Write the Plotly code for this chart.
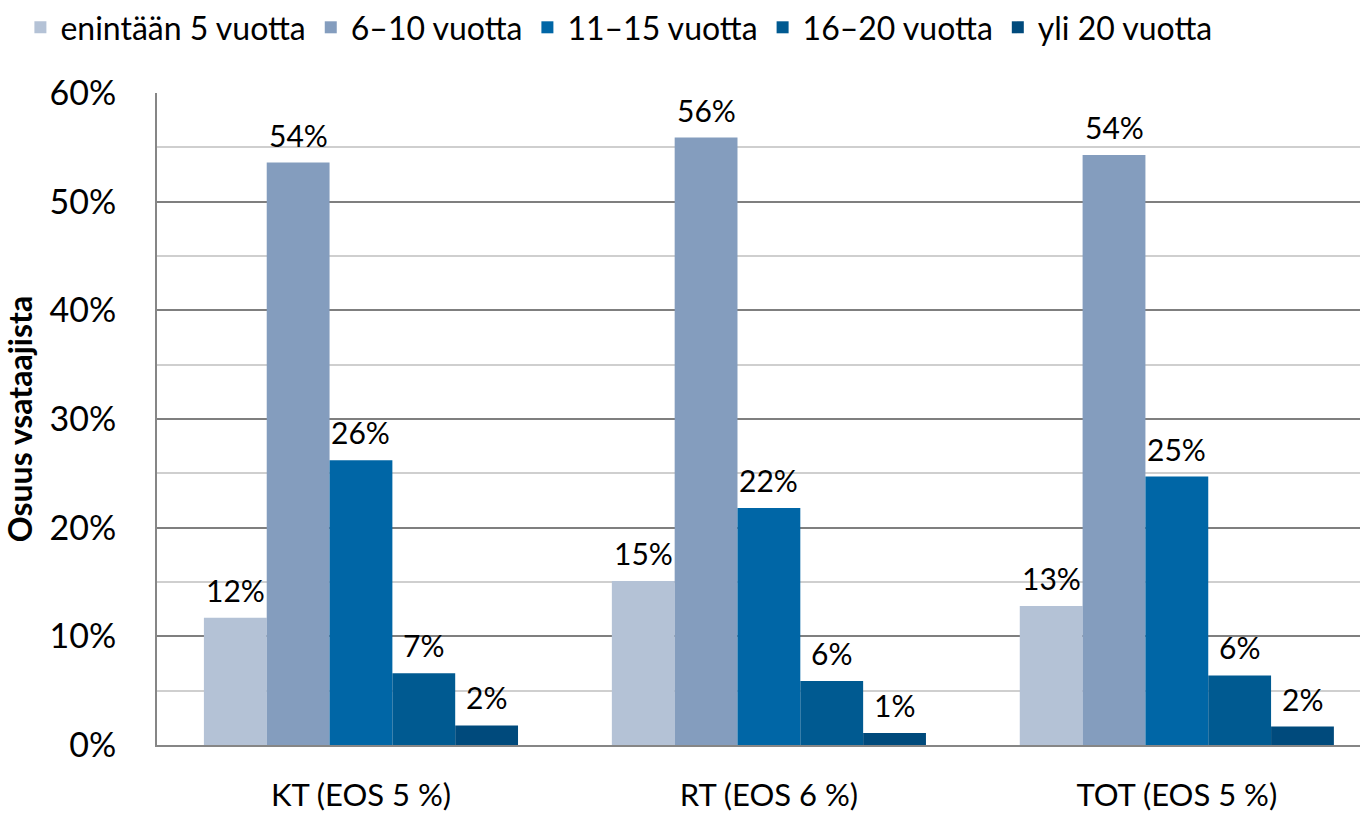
import plotly.graph_objects as go

# Categories and series (shares of respondents)
categories = ["KT (EOS 5 %)", "RT (EOS 6 %)", "TOT (EOS 5 %)"]
series_names = ["enintään 5 vuotta", "6–10 vuotta", "11–15 vuotta", "16–20 vuotta", "yli 20 vuotta"]
upto_5 = [0.117, 0.151, 0.128]
y6_10 = [0.536, 0.559, 0.543]
y11_15 = [0.262, 0.218, 0.247]
y16_20 = [0.066, 0.059, 0.064]
over_20 = [0.018, 0.011, 0.017]
y_ticks = [0, 0.1, 0.2, 0.3, 0.4, 0.5, 0.6]

values = [upto_5, y6_10, y11_15, y16_20, over_20]
colors = ["#B4C2D6", "#849DBE", "#0066A6", "#005A91", "#004A7C"]

FONT = "Lato, 'Open Sans', sans-serif"
W, H = 1360, 813
L, R, T, B = 157, 0, 93, 68
BARGAP = 0.23
X_RANGE = [-0.5, 2.449]

fig = go.Figure()
for name, vals, col in zip(series_names, values, colors):
    fig.add_trace(
        go.Bar(
            x=categories,
            y=vals,
            name=name,
            marker=dict(color=col, line=dict(width=0)),
            hoverinfo="skip",
        )
    )

# Data labels above each bar
cat_px = (W - L - R) / (X_RANGE[1] - X_RANGE[0])
bar_px = cat_px * (1 - BARGAP) / len(values)
for i, vals in enumerate(values):
    for cat, v in zip(categories, vals):
        fig.add_annotation(
            x=cat,
            y=v,
            text=f"{v:.0%}",
            showarrow=False,
            xshift=(i - (len(values) - 1) / 2) * bar_px,
            yshift=8,
            yanchor="bottom",
            font=dict(family=FONT, size=30, color="#000000"),
        )

fig.update_layout(
    width=W,
    height=H,
    margin=dict(l=L, r=R, t=T, b=B, autoexpand=False),
    paper_bgcolor="white",
    plot_bgcolor="white",
    barmode="group",
    bargap=BARGAP,
    bargroupgap=0,
    font=dict(family=FONT, size=28, color="#000000"),
    legend=dict(
        orientation="h",
        xref="container",
        yref="container",
        x=0.015,
        y=1.0,
        xanchor="left",
        yanchor="top",
        font=dict(family=FONT, size=32),
        itemwidth=30,
        traceorder="normal",
    ),
    showlegend=True,
)

fig.update_xaxes(
    range=X_RANGE,
    automargin=False,
    showgrid=False,
    showline=True,
    linecolor="#868686",
    linewidth=2,
    ticks="",
    ticklabelstandoff=22,
    tickfont=dict(family=FONT, size=31),
)

fig.update_yaxes(
    range=[0, 0.6],
    automargin=False,
    tickvals=y_ticks,
    tickformat=".0%",
    showgrid=True,
    gridcolor="#7F7F7F",
    gridwidth=2,
    minor=dict(dtick=0.05, showgrid=True, gridcolor="#CFCFCF", gridwidth=2),
    showline=True,
    linecolor="#868686",
    linewidth=2,
    zeroline=False,
    ticks="",
    ticklabelstandoff=32,
    tickfont=dict(family=FONT, size=34),
    title=dict(
        text="<b>Osuus vsataajista</b>",
        font=dict(family=FONT, size=32),
        standoff=12,
    ),
)

fig.write_html(
    "out.html",
    config={"displayModeBar": False},
    post_script="document.body.style.margin='0';",
)
